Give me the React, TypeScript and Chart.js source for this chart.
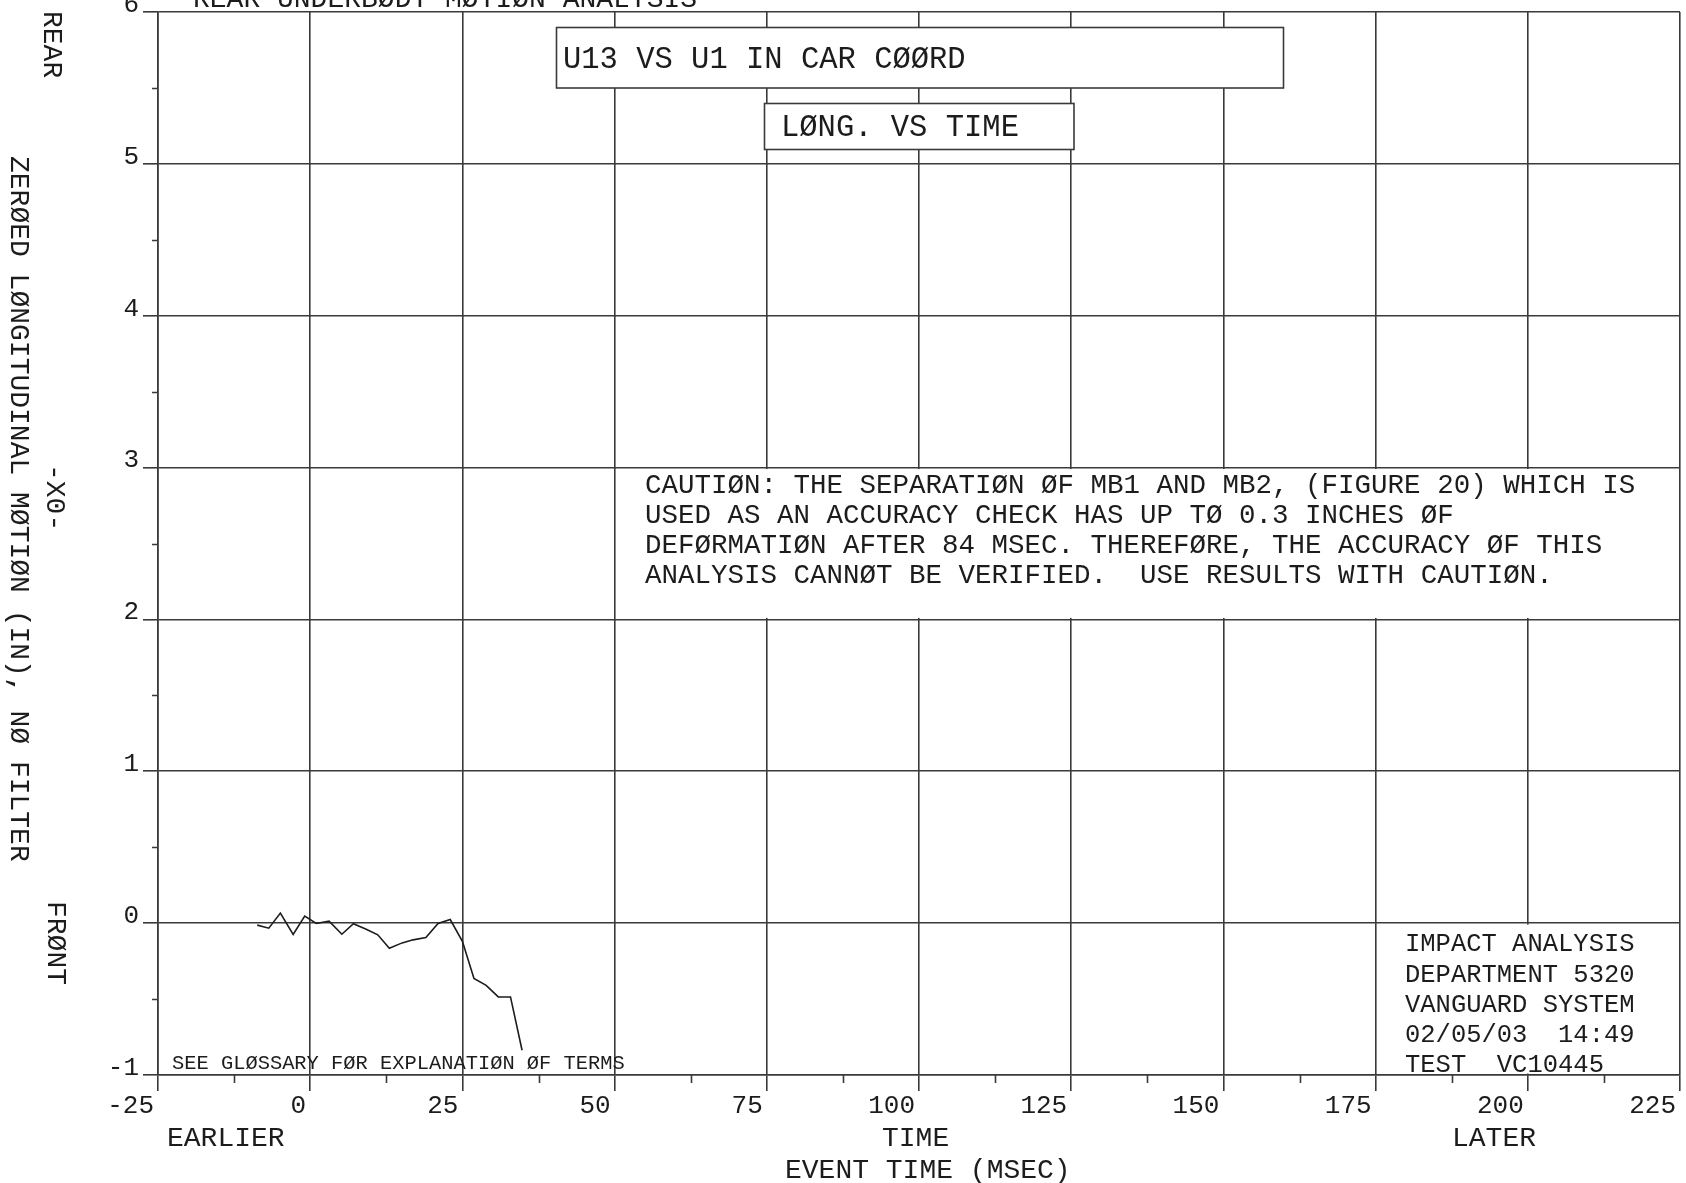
import { useEffect, useRef } from 'react';
import { Chart, registerables } from 'chart.js';

Chart.register(...registerables);

// Zeroed longitudinal motion of U13 relative to U1, car coordinates
const eventTimeMs = [-8.7, -6.8, -4.9, -2.8, -0.9, 1.0, 3.1, 5.2, 7.1, 9.2, 11.1, 13.0, 15.1, 16.9, 19.0, 21.0, 23.0, 25.0, 26.9, 28.9, 30.9, 32.9, 34.8];
const longitudinalIn = [-0.013, -0.033, 0.066, -0.075, 0.046, -0.002, 0.013, -0.073, -0.004, -0.04, -0.077, -0.165, -0.13, -0.11, -0.095, -0.002, 0.024, -0.12, -0.365, -0.41, -0.486, -0.486, -0.837];

const xTickValues = [-25, 0, 25, 50, 75, 100, 125, 150, 175, 200, 225];
const xTickLabels = ['-25', '0', '25', '50', '75', '100', '125', '150', '175', '200', '225'];
const xMinorTicks = [-12.5, 12.5, 37.5, 62.5, 87.5, 112.5, 137.5, 162.5, 187.5, 212.5];
const yTickValues = [-1, 0, 1, 2, 3, 4, 5, 6];
const yTickLabels = ['-1', '0', '1', '2', '3', '4', '5', '6'];
const yMinorTicks = [-0.5, 0.5, 1.5, 2.5, 3.5, 4.5, 5.5];

const plotTitle = 'REAR UNDERBØDY MØTIØN ANALYSIS';
const signalTitle = 'U13 VS U1 IN CAR CØØRD';
const plotKind = 'LØNG. VS TIME';
const cautionLines = [
  'CAUTIØN: THE SEPARATIØN ØF MB1 AND MB2, (FIGURE 20) WHICH IS',
  'USED AS AN ACCURACY CHECK HAS UP TØ 0.3 INCHES ØF',
  'DEFØRMATIØN AFTER 84 MSEC. THEREFØRE, THE ACCURACY ØF THIS',
  'ANALYSIS CANNØT BE VERIFIED.  USE RESULTS WITH CAUTIØN.',
];
const stampLines = ['IMPACT ANALYSIS', 'DEPARTMENT 5320', 'VANGUARD SYSTEM', '02/05/03  14:49', 'TEST  VC10445'];
const glossaryNote = 'SEE GLØSSARY FØR EXPLANATIØN ØF TERMS';
const yAxisTitle = 'ZERØED LØNGITUDINAL MØTIØN (IN), NØ FILTER';
const yAxisTag = '-X0-';
const yTopWord = 'REAR';
const yBottomWord = 'FRØNT';
const xAxisWords = ['EARLIER', 'TIME', 'LATER'];
const xAxisTitle = 'EVENT TIME (MSEC)';

const INK = '#1c1c1c';
const GRID = '#3a3a3a';
const FONT = '"Liberation Mono", "DejaVu Sans Mono", monospace';

// Draws upper-case text whose caps are vertically centred on cy
function caps(ctx: CanvasRenderingContext2D, text: string, x: number, cy: number, size: number) {
  ctx.font = `${size}px ${FONT}`;
  ctx.textAlign = 'left';
  ctx.textBaseline = 'alphabetic';
  ctx.fillText(text, x, cy + size * 0.33);
}

// Text running top-to-bottom (rotated clockwise), centred on column cx
function capsDown(ctx: CanvasRenderingContext2D, text: string, cx: number, yStart: number, size: number) {
  ctx.save();
  ctx.translate(cx, yStart);
  ctx.rotate(Math.PI / 2);
  caps(ctx, text, 0, 0, size);
  ctx.restore();
}

const plotDecor = {
  id: 'plotDecor',
  beforeDatasetsDraw(chart: any) {
    const { ctx, scales } = chart;
    const xs = scales.x;
    const ys = scales.y;
    const area = chart.chartArea;

    ctx.save();
    // minor tick marks
    ctx.strokeStyle = GRID;
    ctx.lineWidth = 1.6;
    ctx.beginPath();
    xMinorTicks.forEach((v) => {
      const px = Math.round(xs.getPixelForValue(v)) + 0.5;
      ctx.moveTo(px, area.bottom);
      ctx.lineTo(px, area.bottom + 8);
    });
    yMinorTicks.forEach((v) => {
      const py = Math.round(ys.getPixelForValue(v)) + 0.5;
      ctx.moveTo(area.left, py);
      ctx.lineTo(area.left - 6, py);
    });
    ctx.stroke();

    // blanked grid cells that carry notes
    const blank = (x0: number, x1: number, y0: number, y1: number) => {
      const l = xs.getPixelForValue(x0);
      const r = xs.getPixelForValue(x1);
      const t = ys.getPixelForValue(y1);
      const b = ys.getPixelForValue(y0);
      ctx.fillStyle = '#ffffff';
      ctx.fillRect(l + 1.5, t + 1.5, r - l - 3, b - t - 3);
    };
    blank(50, 225, 2, 3);
    blank(175, 225, -1, 0);

    // framed title boxes
    const framed = (x: number, y: number, w: number, h: number) => {
      ctx.fillStyle = '#ffffff';
      ctx.fillRect(x, y, w, h);
      ctx.strokeStyle = GRID;
      ctx.lineWidth = 1.6;
      ctx.strokeRect(x, y, w, h);
    };
    framed(556.5, 27.5, 727, 60.5);
    framed(764.5, 103.5, 309.5, 46);
    ctx.restore();
  },
  afterDraw(chart: any) {
    const { ctx } = chart;
    ctx.save();
    ctx.fillStyle = INK;

    caps(ctx, plotTitle, 193, -2, 28);
    caps(ctx, signalTitle, 563, 58, 30.5);
    caps(ctx, plotKind, 781, 126, 30.5);

    cautionLines.forEach((line, i) => caps(ctx, line, 645, 484 + i * 30, 27.5));
    stampLines.forEach((line, i) => caps(ctx, line, 1405, 943 + i * 30.2, 25.5));
    caps(ctx, glossaryNote, 172, 1062, 20.4);

    caps(ctx, xAxisWords[0], 167, 1137, 28);
    caps(ctx, xAxisWords[1], 882, 1137, 28);
    caps(ctx, xAxisWords[2], 1452, 1137, 28);
    caps(ctx, xAxisTitle, 785, 1169, 28);

    capsDown(ctx, yTopWord, 53, 11, 28);
    capsDown(ctx, yAxisTag, 56, 464, 28);
    capsDown(ctx, yAxisTitle, 20, 156, 28);
    capsDown(ctx, yBottomWord, 57, 901, 28);
    ctx.restore();
  },
};

export default function App() {
  const canvasRef = useRef<HTMLCanvasElement>(null);

  useEffect(() => {
    document.body.style.margin = '0';
    document.body.style.overflow = 'hidden';
    const canvas = canvasRef.current;
    if (!canvas) return;

    const chart = new Chart(canvas, {
      type: 'line',
      data: {
        datasets: [
          {
            data: eventTimeMs.map((t, i) => ({ x: t, y: longitudinalIn[i] })),
            borderColor: INK,
            borderWidth: 1.6,
            pointRadius: 0,
            tension: 0,
            fill: false,
          },
        ],
      },
      options: {
        responsive: false,
        animation: false,
        devicePixelRatio: 1,
        layout: { padding: { left: 0, top: 12, right: 6, bottom: 0 } },
        plugins: {
          legend: { display: false },
          tooltip: { enabled: false },
          title: { display: false },
        },
        scales: {
          x: {
            type: 'linear',
            min: -25,
            max: 225,
            afterBuildTicks: (scale: any) => {
              scale.ticks = xTickValues.map((value) => ({ value }));
            },
            afterFit: (scale: any) => {
              scale.height = 108;
              scale.paddingLeft = 0;
              scale.paddingRight = 0;
            },
            grid: { color: GRID, lineWidth: 1.6, tickLength: 16, drawTicks: true },
            border: { display: true, color: GRID, width: 1.6 },
            ticks: {
              align: 'end',
              labelOffset: -4,
              padding: 0,
              color: INK,
              maxRotation: 0,
              autoSkip: false,
              font: { family: FONT, size: 26 },
              callback: (_v: any, i: number) => xTickLabels[i],
            },
          },
          y: {
            type: 'linear',
            min: -1,
            max: 6,
            afterBuildTicks: (scale: any) => {
              scale.ticks = yTickValues.map((value) => ({ value }));
            },
            afterFit: (scale: any) => {
              scale.width = 158;
              scale.paddingTop = 0;
              scale.paddingBottom = 0;
            },
            grid: { color: GRID, lineWidth: 1.6, tickLength: 15, drawTicks: true },
            border: { display: true, color: GRID, width: 1.6 },
            ticks: {
              padding: 4,
              labelOffset: -7,
              color: INK,
              autoSkip: false,
              font: { family: FONT, size: 26 },
              callback: (_v: any, i: number) => yTickLabels[i],
            },
          },
        },
      },
      plugins: [plotDecor],
    } as any);

    return () => chart.destroy();
  }, []);

  return <canvas ref={canvasRef} width={1686} height={1183} style={{ display: 'block' }} />;
}
